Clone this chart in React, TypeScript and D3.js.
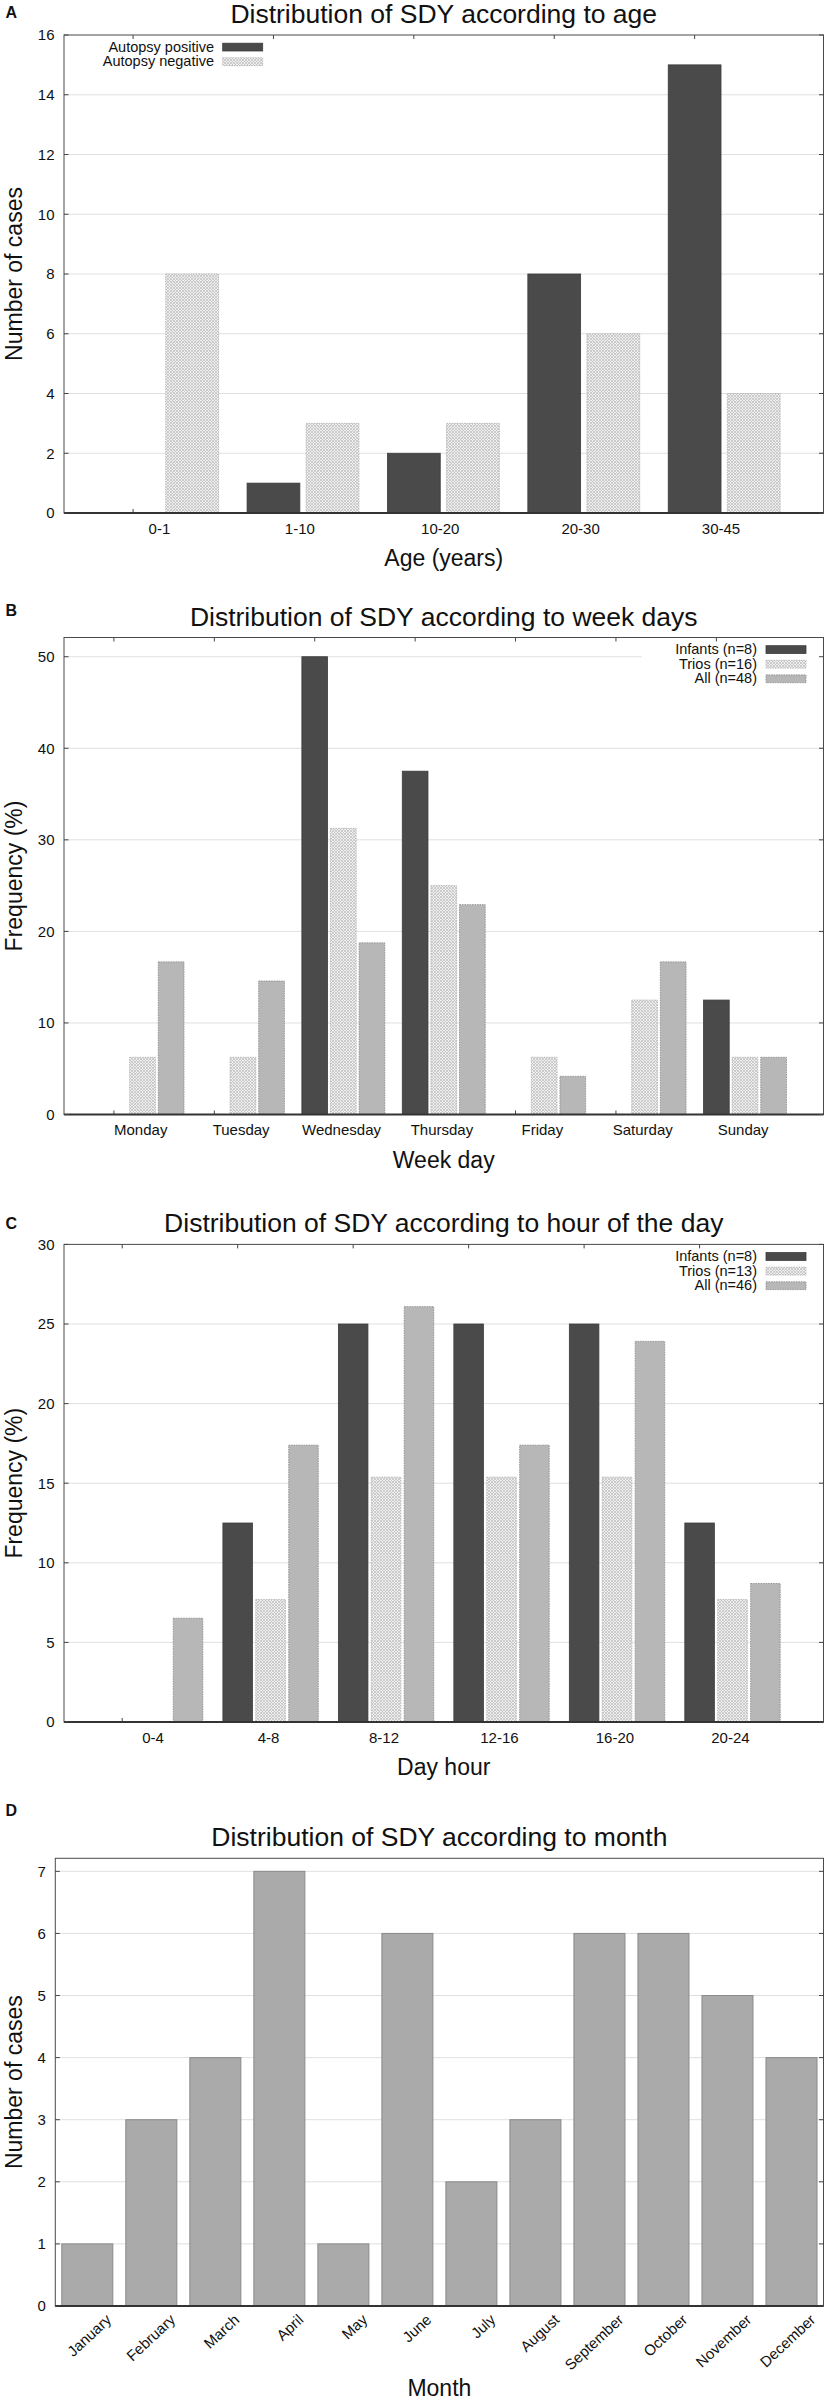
import React, { useEffect, useRef } from 'react';
import * as d3 from 'd3';

// ---------------- Data ----------------
const ageGroups = ['0-1', '1-10', '10-20', '20-30', '30-45'];
const autopsyPositive = [0, 1, 2, 8, 15];
const autopsyNegative = [8, 3, 3, 6, 4];

const weekDays = ['Monday', 'Tuesday', 'Wednesday', 'Thursday', 'Friday', 'Saturday', 'Sunday'];
const weekInfants = [0, 0, 50, 37.5, 0, 0, 12.5];
const weekTrios = [6.25, 6.25, 31.25, 25, 6.25, 12.5, 6.25];
const weekAll = [16.67, 14.58, 18.75, 22.92, 4.17, 16.67, 6.25];

const hourBins = ['0-4', '4-8', '8-12', '12-16', '16-20', '20-24'];
const hourInfants = [0, 12.5, 25, 25, 25, 12.5];
const hourTrios = [0, 7.69, 15.38, 15.38, 15.38, 7.69];
const hourAll = [6.52, 17.39, 26.09, 17.39, 23.91, 8.7];

const months = ['January', 'February', 'March', 'April', 'May', 'June', 'July', 'August', 'September', 'October', 'November', 'December'];
const monthCases = [1, 3, 4, 7, 1, 6, 2, 3, 6, 6, 5, 4];

const W = 826;
const H = 2402;
const FONT = '"Liberation Sans", Arial, Helvetica, sans-serif';

type Kind = 'dark' | 'hatch' | 'mid' | 'month';
interface Series { name: string; values: number[]; kind: Kind; center: number; }
interface PanelOpts {
  letter: string; letterY: number;
  title: string; xLabel: string; yLabel: string;
  categories: string[]; series: Series[];
  left: number; right: number; top: number; bottom: number;
  yMax: number; yTickMax: number; yStep: number;
  xDomain: [number, number]; barW: number;
  stub: number | null;
  legend: null | { textRight: number; swatchX: number; box: null | { x: number; h: number } };
  rotate: boolean; topTicks: boolean;
}

function styleBar(sel: any, kind: Kind) {
  if (kind === 'dark') sel.attr('fill', '#4a4a4a').attr('stroke', '#3c3c3c').attr('stroke-width', 0.8);
  else if (kind === 'hatch') sel.attr('fill', 'url(#hatch)').attr('stroke', '#b4b4b4').attr('stroke-width', 0.9).attr('stroke-dasharray', '1.5,1');
  else if (kind === 'mid') sel.attr('fill', '#b7b7b7').attr('stroke', '#8e8e8e').attr('stroke-width', 0.9).attr('stroke-dasharray', '1.5,1');
  else sel.attr('fill', '#aaaaaa').attr('stroke', '#8a8a8a').attr('stroke-width', 1);
}

function drawPanel(svg: any, p: PanelOpts) {
  const g = svg.append('g');
  const x = d3.scaleLinear().domain(p.xDomain).range([p.left, p.right]);
  const y = d3.scaleLinear().domain([0, p.yMax]).range([p.bottom, p.top]);
  const ticks = d3.range(0, p.yTickMax + 1e-9, p.yStep);
  const bw = x(p.barW) - x(0);

  // gridlines
  g.selectAll('line.grid')
    .data(ticks.filter((t) => t > 0 && y(t) > p.top + 1))
    .join('line')
    .attr('x1', p.left).attr('x2', p.right)
    .attr('y1', (d: number) => y(d)).attr('y2', (d: number) => y(d))
    .attr('stroke', '#e0e0e0').attr('stroke-width', 1);

  // legend white box
  if (p.legend && p.legend.box) {
    g.append('rect').attr('x', p.legend.box.x).attr('y', p.top + 1)
      .attr('width', p.right - p.legend.box.x - 1).attr('height', p.legend.box.h)
      .attr('fill', '#fff');
  }

  // small x tics (bottom / top)
  if (p.stub !== null) {
    const st = p.stub;
    g.selectAll('line.stub').data(p.categories).join('line')
      .attr('x1', (_d: string, i: number) => x(i + st)).attr('x2', (_d: string, i: number) => x(i + st))
      .attr('y1', p.bottom).attr('y2', p.bottom - 4)
      .attr('stroke', '#444').attr('stroke-width', 1);
    if (p.topTicks) {
      g.selectAll('line.stubt').data(p.categories).join('line')
        .attr('x1', (_d: string, i: number) => x(i + st)).attr('x2', (_d: string, i: number) => x(i + st))
        .attr('y1', p.top).attr('y2', p.top + 4)
        .attr('stroke', '#444').attr('stroke-width', 1);
    }
  }

  // bars
  p.series.forEach((s) => {
    const sel = g.append('g').selectAll('rect')
      .data(s.values.map((v, i) => ({ v, i })).filter((d) => d.v > 0))
      .join('rect')
      .attr('x', (d: any) => x(d.i + s.center) - bw / 2)
      .attr('width', bw)
      .attr('y', (d: any) => y(d.v))
      .attr('height', (d: any) => y(0) - y(d.v));
    styleBar(sel, s.kind);
  });

  // frame
  g.append('rect').attr('x', p.left).attr('y', p.top)
    .attr('width', p.right - p.left).attr('height', p.bottom - p.top)
    .attr('fill', 'none').attr('stroke', '#4a4a4a').attr('stroke-width', 1);
  g.append('line').attr('x1', p.left).attr('x2', p.right).attr('y1', p.bottom).attr('y2', p.bottom)
    .attr('stroke', '#333').attr('stroke-width', 2);

  // y ticks inside left and right
  g.selectAll('line.yt').data(ticks).join('line')
    .attr('x1', p.left).attr('x2', p.left + 4.5)
    .attr('y1', (d: number) => y(d)).attr('y2', (d: number) => y(d))
    .attr('stroke', '#444');
  g.selectAll('line.yt2').data(ticks).join('line')
    .attr('x1', p.right).attr('x2', p.right - 4.5)
    .attr('y1', (d: number) => y(d)).attr('y2', (d: number) => y(d))
    .attr('stroke', '#444');

  // y tick labels
  g.selectAll('text.ytl').data(ticks).join('text')
    .attr('x', p.left - 9.5).attr('y', (d: number) => y(d)).attr('dy', '0.36em')
    .attr('text-anchor', 'end').attr('font-size', 15).attr('font-family', FONT).attr('fill', '#111')
    .text((d: number) => d3.format('d')(d));

  // x tick labels
  if (p.rotate) {
    g.selectAll('text.xtl').data(p.categories).join('text')
      .attr('transform', (_d: string, i: number) => `translate(${x(i) + 25},${p.bottom + 15}) rotate(-43)`)
      .attr('text-anchor', 'end').attr('font-size', 15).attr('font-family', FONT).attr('fill', '#111')
      .text((d: string) => d);
  } else {
    g.selectAll('text.xtl').data(p.categories).join('text')
      .attr('x', (_d: string, i: number) => x(i)).attr('y', p.bottom + 20.5)
      .attr('text-anchor', 'middle').attr('font-size', 15).attr('font-family', FONT).attr('fill', '#111')
      .text((d: string) => d);
  }

  const cx = (p.left + p.right) / 2;
  // title
  g.append('text').attr('x', cx).attr('y', p.top - 12).attr('text-anchor', 'middle')
    .attr('font-size', 26.5).attr('font-family', FONT).attr('fill', '#111').text(p.title);
  // x label
  g.append('text').attr('x', cx).attr('y', p.rotate ? 2396 : p.bottom + 53).attr('text-anchor', 'middle')
    .attr('font-size', 23).attr('font-family', FONT).attr('fill', '#111').text(p.xLabel);
  // y label
  g.append('text').attr('transform', `translate(22,${(p.top + p.bottom) / 2}) rotate(-90)`)
    .attr('text-anchor', 'middle').attr('font-size', 23).attr('font-family', FONT).attr('fill', '#111')
    .text(p.yLabel);
  // panel letter
  g.append('text').attr('x', 5.5).attr('y', p.letterY).attr('font-size', 16).attr('font-weight', 'bold')
    .attr('font-family', FONT).attr('fill', '#111').text(p.letter);

  // legend
  if (p.legend) {
    const lg = p.legend;
    p.series.forEach((s, k) => {
      const base = p.top + 16.5 + k * 14.6;
      g.append('text').attr('x', lg.textRight).attr('y', base).attr('text-anchor', 'end')
        .attr('font-size', 14.5).attr('font-family', FONT).attr('fill', '#111').text(s.name);
      const r = g.append('rect').attr('x', lg.swatchX).attr('y', base - 8.3).attr('width', 40).attr('height', 7.8);
      styleBar(r, s.kind);
    });
  }
}

function App() {
  const ref = useRef<SVGSVGElement | null>(null);

  useEffect(() => {
    document.body.style.margin = '0';
    const svg = d3.select(ref.current);
    svg.selectAll('*').remove();
    svg.append('rect').attr('width', W).attr('height', H).attr('fill', '#fff');

    const defs = svg.append('defs');
    const pat = defs.append('pattern').attr('id', 'hatch').attr('patternUnits', 'userSpaceOnUse')
      .attr('width', 3).attr('height', 3);
    pat.append('rect').attr('width', 3).attr('height', 3).attr('fill', '#efefef');
    pat.append('path').attr('d', 'M0,0 L3,3 M3,0 L0,3').attr('stroke', '#bdbdbd').attr('stroke-width', 0.7);

    const step3 = 0.285;
    const shift3 = 0.018;

    drawPanel(svg, {
      letter: 'A', letterY: 17.5,
      title: 'Distribution of SDY according to age', xLabel: 'Age (years)', yLabel: 'Number of cases',
      categories: ageGroups,
      series: [
        { name: 'Autopsy positive', values: autopsyPositive, kind: 'dark', center: -0.188 },
        { name: 'Autopsy negative', values: autopsyNegative, kind: 'hatch', center: 0.233 },
      ],
      left: 64, right: 823.5, top: 35, bottom: 513,
      yMax: 16, yTickMax: 16, yStep: 2,
      xDomain: [-0.68, 4.73], barW: 0.376, stub: -0.188,
      legend: { textRight: 214, swatchX: 222.7, box: null },
      rotate: false, topTicks: true,
    });

    drawPanel(svg, {
      letter: 'B', letterY: 615.5,
      title: 'Distribution of SDY according to week days', xLabel: 'Week day', yLabel: 'Frequency (%)',
      categories: weekDays,
      series: [
        { name: 'Infants (n=8)', values: weekInfants, kind: 'dark', center: shift3 - step3 },
        { name: 'Trios (n=16)', values: weekTrios, kind: 'hatch', center: shift3 },
        { name: 'All (n=48)', values: weekAll, kind: 'mid', center: shift3 + step3 },
      ],
      left: 64, right: 823.5, top: 637.5, bottom: 1114.5,
      yMax: 52.1, yTickMax: 50, yStep: 10,
      xDomain: [-0.764, 6.8], barW: 0.256, stub: shift3 - step3,
      legend: { textRight: 757, swatchX: 766, box: { x: 641.7, h: 52 } },
      rotate: false, topTicks: true,
    });

    drawPanel(svg, {
      letter: 'C', letterY: 1228.7,
      title: 'Distribution of SDY according to hour of the day', xLabel: 'Day hour', yLabel: 'Frequency (%)',
      categories: hourBins,
      series: [
        { name: 'Infants (n=8)', values: hourInfants, kind: 'dark', center: shift3 - step3 },
        { name: 'Trios (n=13)', values: hourTrios, kind: 'hatch', center: shift3 },
        { name: 'All (n=46)', values: hourAll, kind: 'mid', center: shift3 + step3 },
      ],
      left: 64, right: 823.5, top: 1244.4, bottom: 1722,
      yMax: 30, yTickMax: 30, yStep: 5,
      xDomain: [-0.771, 5.806], barW: 0.256, stub: shift3 - step3,
      legend: { textRight: 757, swatchX: 766, box: { x: 641.7, h: 52 } },
      rotate: false, topTicks: true,
    });

    drawPanel(svg, {
      letter: 'D', letterY: 1816,
      title: 'Distribution of SDY according to month', xLabel: 'Month', yLabel: 'Number of cases',
      categories: months,
      series: [{ name: 'Cases', values: monthCases, kind: 'month', center: 0 }],
      left: 55.3, right: 823.5, top: 1858.3, bottom: 2306,
      yMax: 7.21, yTickMax: 7, yStep: 1,
      xDomain: [-0.5, 11.5], barW: 0.797, stub: null,
      legend: null,
      rotate: true, topTicks: false,
    });
  }, []);

  return (
    <div style={{ position: 'absolute', left: 0, top: 0, width: W, height: H, overflow: 'hidden' }}>
      <svg ref={ref} width={W} height={H} style={{ display: 'block' }} />
    </div>
  );
}

export default App;
